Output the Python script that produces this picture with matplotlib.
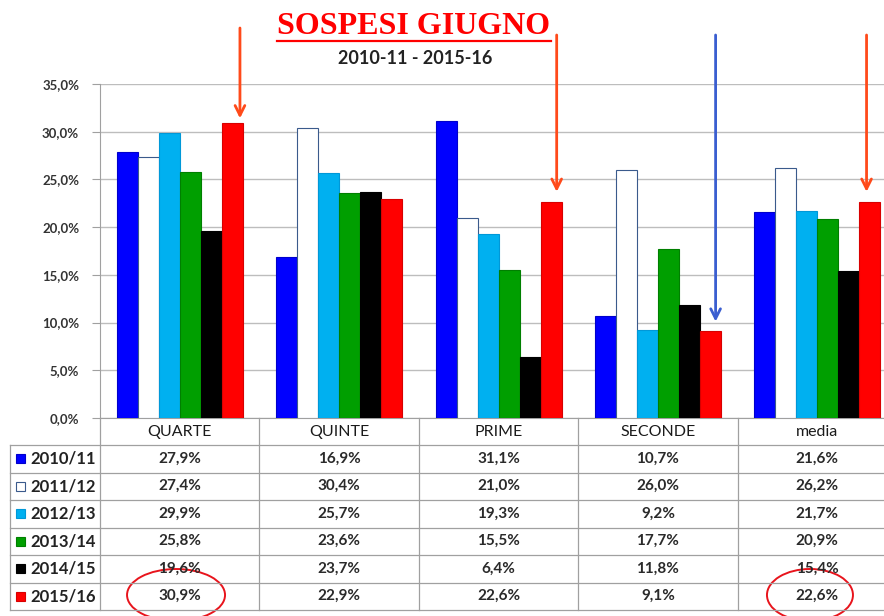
import matplotlib
matplotlib.use('Agg')
import matplotlib.pyplot as plt
from matplotlib.patches import Ellipse, Rectangle
from matplotlib.lines import Line2D
from matplotlib.transforms import blended_transform_factory
from matplotlib.ticker import FuncFormatter, MultipleLocator

# data
categories = ['QUARTE', 'QUINTE', 'PRIME', 'SECONDE', 'media']
years = ['2010/11', '2011/12', '2012/13', '2013/14', '2014/15', '2015/16']
v_2010_11 = [27.9, 16.9, 31.1, 10.7, 21.6]
v_2011_12 = [27.4, 30.4, 21.0, 26.0, 26.2]
v_2012_13 = [29.9, 25.7, 19.3, 9.2, 21.7]
v_2013_14 = [25.8, 23.6, 15.5, 17.7, 20.9]
v_2014_15 = [19.6, 23.7, 6.4, 11.8, 15.4]
v_2015_16 = [30.9, 22.9, 22.6, 9.1, 22.6]
series = [v_2010_11, v_2011_12, v_2012_13, v_2013_14, v_2014_15, v_2015_16]

fills = ['#0000FF', '#FFFFFF', '#00B0F0', '#009F00', '#000000', '#FF0000']
edges = ['#0000CC', '#3A5A8C', '#0098D8', '#007F00', '#000000', '#D80000']

plt.rcParams['font.family'] = ['Lato', 'DejaVu Sans']

W, H = 884, 616
fig = plt.figure(figsize=(W / 100, H / 100), dpi=100)
fy = lambda py: 1 - py / H

ax = fig.add_axes([100 / W, fy(418), 797 / W, (418 - 84) / H])
px_per_unit = 797 / 5

bw = 21 / px_per_unit
x = range(len(categories))
for i, (vals, fc, ec) in enumerate(zip(series, fills, edges)):
    off = (i - 2.5) * bw
    ax.bar([k + off for k in x], vals, width=bw, color=fc, edgecolor=ec, linewidth=0.8, zorder=3)

ax.set_xlim(-0.5, 4.5)
ax.set_ylim(0, 35)
ax.yaxis.set_major_locator(MultipleLocator(5))
ax.yaxis.set_major_formatter(FuncFormatter(lambda v, p: f'{v:.1f}%'.replace('.', ',')))
ax.yaxis.grid(True, color='#BDBDBD', lw=1)
ax.set_axisbelow(True)
ax.set_xticks([])
for s in ['top', 'right']:
    ax.spines[s].set_visible(False)
for s in ['left', 'bottom']:
    ax.spines[s].set_color('#A0A0A0')
ax.tick_params(axis='y', length=6, color='#A0A0A0', labelsize=9.5, pad=9, labelcolor='#333333')
for lab in ax.get_yticklabels():
    lab.set_fontweight('bold')

# data table under the chart
tr = blended_transform_factory(ax.transData, fig.transFigure)
x_lab = -0.5 - 90 / px_per_unit
rows_py = [445, 472.5, 500, 527.5, 555, 582.5, 610]
tcol = '#A0A0A0'
for k in range(len(categories) + 1):
    ax.plot([k - 0.5, k - 0.5], [fy(418), fy(610)], color=tcol, lw=0.9, transform=tr, clip_on=False)
ax.plot([x_lab, x_lab], [fy(445), fy(610)], color=tcol, lw=0.9, transform=tr, clip_on=False)
for py in rows_py:
    ax.plot([x_lab, 4.6], [fy(py), fy(py)], color=tcol, lw=0.9, transform=tr, clip_on=False)

for k, c in enumerate(categories):
    ax.text(k, fy(432), c, ha='center', va='center', fontsize=11.5, color='#1A1A1A', transform=tr)

for r, (yr, vals) in enumerate(zip(years, series)):
    yc = (rows_py[r] + rows_py[r + 1]) / 2
    sw = Rectangle((-0.5 - 84 / px_per_unit, fy(yc + 4.5)), 9 / px_per_unit, 9 / H,
                   facecolor=fills[r], edgecolor=edges[r], lw=0.8, transform=tr, clip_on=False)
    ax.add_patch(sw)
    ax.text(-0.5 - 70 / px_per_unit, fy(yc), yr, ha='left', va='center', fontsize=12,
            fontweight='bold', color='#222222', transform=tr)
    for k, v in enumerate(vals):
        ax.text(k, fy(yc), f'{v:.1f}%'.replace('.', ','), ha='center', va='center',
                fontsize=11, fontweight='bold', color='#2A2A2A', transform=tr)

# red circles in the table
for cx, w in [(-0.023, 98), (3.954, 86)]:
    ax.add_patch(Ellipse((cx, fy(595)), w / px_per_unit, 52 / H, fill=False,
                         edgecolor='#E8141C', lw=1.4, transform=tr, clip_on=False))

# arrows
arrow_x = [0.378, 2.365, 3.362, 4.309]
arrow_tail = [28, 35, 35, 35]
arrow_gap = [0.5, 1.1, 1.0, 1.1]
arrow_col = ['#FF4A1A', '#FF4A1A', '#3A5ED0', '#FF4A1A']
for ax_x, col_i, tail, gap, c in zip(arrow_x, [0, 2, 3, 4], arrow_tail, arrow_gap, arrow_col):
    ax.annotate('', xy=(ax_x, v_2015_16[col_i] + gap), xycoords='data',
                xytext=(ax_x, fy(tail)), textcoords=tr,
                arrowprops=dict(arrowstyle='->,head_length=0.7,head_width=0.35', color=c, lw=2,
                                shrinkA=0, shrinkB=0),
                annotation_clip=False)

# title
t = fig.text(414 / W, fy(26), 'SOSPESI GIUGNO', ha='center', va='center', color='#FF0000',
             fontsize=23, fontweight='bold', family='Liberation Serif')
fig.text(415 / W, fy(58), '2010-11 - 2015-16', ha='center', va='center', color='#222222',
         fontsize=13, fontweight='bold')
fig.canvas.draw()
bb = t.get_window_extent()
fig.add_artist(Line2D([bb.x0 / W, bb.x1 / W], [fy(41), fy(41)], color='#FF0000', lw=1.6))

fig.savefig('out.png', dpi=100)
